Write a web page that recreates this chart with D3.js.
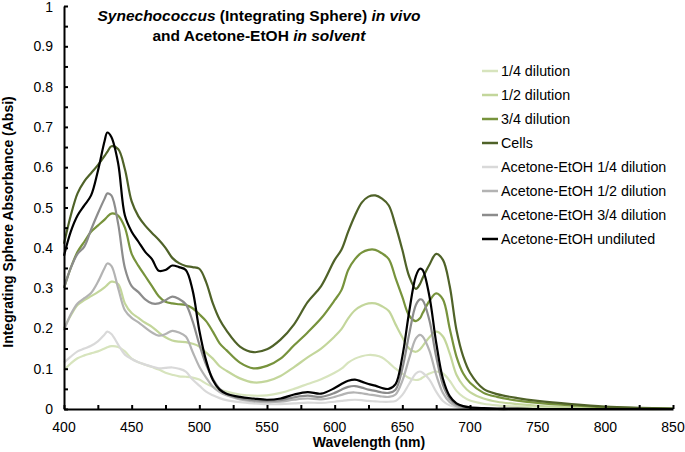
<!DOCTYPE html>
<html><head><meta charset="utf-8">
<script src="https://cdn.jsdelivr.net/npm/d3@7"></script>
<style>body{margin:0;background:#fff}svg{display:block}text{font-family:"Liberation Sans",Arial,sans-serif}</style>
</head><body>
<svg id="c" width="685" height="452"></svg>
<script>
const wavelengths = [400,405,410,415,420,425,430,432,435,440,445,450,455,460,465,470,475,480,485,490,495,500,505,510,515,520,530,540,550,560,570,580,590,600,605,610,615,620,625,630,635,640,645,650,655,660,663,665,670,675,680,685,690,695,700,710,720,735,750,775,800,825,850];

const dil14 = [0.097,0.113,0.126,0.133,0.138,0.143,0.150,0.153,0.156,0.154,0.143,0.125,0.116,0.110,0.104,0.098,0.090,0.085,0.081,0.080,0.078,0.073,0.063,0.055,0.048,0.043,0.036,0.033,0.034,0.040,0.050,0.062,0.074,0.090,0.100,0.115,0.125,0.131,0.134,0.133,0.128,0.115,0.100,0.088,0.077,0.072,0.074,0.078,0.088,0.093,0.088,0.070,0.045,0.030,0.021,0.013,0.009,0.006,0.004,0.002,0.001,0.000,0.000];
const dil12 = [0.200,0.232,0.258,0.270,0.280,0.290,0.302,0.308,0.316,0.310,0.262,0.238,0.226,0.214,0.204,0.190,0.178,0.170,0.167,0.166,0.162,0.155,0.140,0.125,0.106,0.095,0.076,0.066,0.069,0.082,0.104,0.128,0.150,0.180,0.198,0.225,0.245,0.256,0.262,0.262,0.255,0.243,0.210,0.178,0.150,0.142,0.148,0.156,0.178,0.192,0.180,0.138,0.085,0.058,0.042,0.026,0.018,0.012,0.008,0.004,0.002,0.001,0.000];
const dil34 = [0.300,0.350,0.390,0.415,0.440,0.455,0.470,0.477,0.485,0.480,0.450,0.385,0.355,0.330,0.305,0.280,0.266,0.262,0.260,0.258,0.250,0.235,0.218,0.192,0.163,0.146,0.115,0.101,0.107,0.125,0.158,0.190,0.225,0.270,0.295,0.345,0.372,0.388,0.395,0.395,0.386,0.372,0.325,0.278,0.232,0.218,0.225,0.238,0.268,0.287,0.272,0.200,0.130,0.088,0.065,0.040,0.030,0.021,0.015,0.009,0.004,0.002,0.001];
const cells = [0.410,0.480,0.535,0.565,0.585,0.605,0.628,0.638,0.652,0.645,0.595,0.515,0.478,0.455,0.437,0.420,0.400,0.375,0.362,0.355,0.352,0.348,0.315,0.262,0.222,0.195,0.155,0.141,0.148,0.172,0.210,0.265,0.305,0.370,0.395,0.440,0.480,0.512,0.527,0.530,0.522,0.505,0.455,0.395,0.330,0.298,0.310,0.325,0.358,0.385,0.370,0.305,0.196,0.130,0.090,0.050,0.037,0.027,0.020,0.012,0.006,0.003,0.001];
const ace14 = [0.115,0.130,0.143,0.150,0.157,0.168,0.185,0.192,0.186,0.160,0.135,0.124,0.116,0.110,0.105,0.101,0.102,0.103,0.100,0.093,0.073,0.058,0.043,0.034,0.027,0.022,0.017,0.014,0.012,0.012,0.014,0.016,0.015,0.018,0.020,0.022,0.023,0.022,0.020,0.019,0.018,0.018,0.020,0.035,0.062,0.088,0.093,0.090,0.073,0.043,0.020,0.009,0.004,0.002,0.001,0,0,0,0,0,0,0,0];
const ace12 = [0.195,0.235,0.262,0.275,0.288,0.315,0.350,0.361,0.355,0.300,0.245,0.226,0.215,0.202,0.190,0.182,0.186,0.194,0.190,0.180,0.142,0.105,0.078,0.055,0.042,0.034,0.024,0.019,0.017,0.018,0.023,0.026,0.024,0.030,0.035,0.040,0.041,0.039,0.036,0.034,0.031,0.030,0.036,0.070,0.125,0.175,0.184,0.180,0.145,0.085,0.040,0.017,0.007,0.003,0.002,0.001,0,0,0,0,0,0,0];
const ace34 = [0.300,0.350,0.385,0.403,0.445,0.485,0.522,0.535,0.530,0.460,0.350,0.305,0.290,0.272,0.262,0.262,0.270,0.279,0.273,0.260,0.218,0.160,0.110,0.075,0.050,0.038,0.027,0.022,0.020,0.022,0.029,0.033,0.030,0.040,0.048,0.055,0.057,0.053,0.048,0.045,0.041,0.040,0.048,0.100,0.185,0.258,0.272,0.270,0.220,0.130,0.060,0.026,0.011,0.005,0.003,0.001,0,0,0,0,0,0,0];
const ace100 = [0.380,0.440,0.480,0.505,0.530,0.590,0.665,0.686,0.675,0.610,0.480,0.440,0.415,0.390,0.372,0.343,0.345,0.356,0.352,0.345,0.295,0.195,0.120,0.072,0.048,0.038,0.030,0.026,0.023,0.026,0.036,0.042,0.038,0.052,0.062,0.070,0.073,0.068,0.062,0.058,0.052,0.050,0.062,0.130,0.240,0.330,0.348,0.345,0.280,0.165,0.075,0.032,0.014,0.007,0.004,0.002,0.001,0.001,0,0,0,0,0];

const seriesNames = ["1/4 dilution","1/2 dilution","3/4 dilution","Cells","Acetone-EtOH 1/4 dilution","Acetone-EtOH 1/2 dilution","Acetone-EtOH 3/4 dilution","Acetone-EtOH undiluted"];
const seriesValues = [dil14, dil12, dil34, cells, ace14, ace12, ace34, ace100];
const seriesColors = ["#d7e4bd","#c3d69b","#77933c","#4f6228","#d9d9d9","#b3b3b3","#8c8c8c","#000000"];

const xTicks = [400,450,500,550,600,650,700,750,800,850];
const yTicks = [0,0.1,0.2,0.3,0.4,0.5,0.6,0.7,0.8,0.9,1];

const svg = d3.select("#c");
const x = d3.scaleLinear().domain([400,850]).range([64,673]);
const y = d3.scaleLinear().domain([0,1]).range([409,6]);

// series
const line = d3.line().x((d,i)=>x(wavelengths[i])).y(d=>y(d)).curve(d3.curveCatmullRom.alpha(0.5));
const g = svg.append("g");
seriesValues.forEach((vals,k)=>{
  g.append("path").attr("d", line(vals)).attr("fill","none")
   .attr("stroke", seriesColors[k]).attr("stroke-width",2.2).attr("stroke-linejoin","round");
});

// axes
const xAxis = svg.append("g").attr("transform","translate(0,409)");
xAxis.call(d3.axisBottom(x).tickValues(d3.range(400,851,25)).tickSize(0).tickFormat(""));
xAxis.select(".domain").attr("stroke","#000").attr("stroke-width",2);
xAxis.selectAll(".tick").append("line").attr("y1",0).attr("y2",-4).attr("stroke","#000").attr("stroke-width",2);
xTicks.forEach(t=>{
  svg.append("text").attr("x",x(t)).attr("y",432).attr("text-anchor","middle")
   .attr("font-size",14).attr("fill","#000").text(t);
});

const yAxis = svg.append("g").attr("transform","translate(64,0)");
yAxis.call(d3.axisLeft(y).tickValues(d3.range(0,1.0001,0.05)).tickSize(0).tickFormat(""));
yAxis.select(".domain").attr("stroke","#000").attr("stroke-width",2);
yAxis.selectAll(".tick").append("line").attr("x1",0).attr("x2",4).attr("stroke","#000").attr("stroke-width",2);
yTicks.forEach(t=>{
  svg.append("text").attr("x",53).attr("y",Math.max(y(t)+5, 12)).attr("text-anchor","end")
   .attr("font-size",14).attr("fill","#000").text(t===0?"0":(t===1?"1":t.toFixed(1)));
});

// axis titles
svg.append("text").attr("x",369).attr("y",447).attr("text-anchor","middle")
  .attr("font-size",14).attr("font-weight","bold").text("Wavelength (nm)");
svg.append("text").attr("transform","translate(13,222) rotate(-90)").attr("text-anchor","middle")
  .attr("font-size",14).attr("font-weight","bold").text("Integrating Sphere Absorbance (Absi)");

// title
const t1 = svg.append("text").attr("x",259).attr("y",21).attr("text-anchor","middle")
  .attr("font-size",15.5).attr("font-weight","bold");
t1.append("tspan").attr("font-style","italic").text("Synechococcus");
t1.append("tspan").text(" (Integrating Sphere) ");
t1.append("tspan").attr("font-style","italic").text("in vivo");
const t2 = svg.append("text").attr("x",259).attr("y",41).attr("text-anchor","middle")
  .attr("font-size",15.5).attr("font-weight","bold");
t2.append("tspan").text("and Acetone-EtOH ");
t2.append("tspan").attr("font-style","italic").text("in solvent");

// legend
seriesNames.forEach((n,k)=>{
  const yy = 71 + k*24;
  svg.append("line").attr("x1",482).attr("x2",498).attr("y1",yy).attr("y2",yy)
    .attr("stroke",seriesColors[k]).attr("stroke-width",2.5);
  svg.append("text").attr("x",501).attr("y",yy+5).attr("font-size",14.3).attr("fill","#000").text(n);
});
</script>
</body></html>
